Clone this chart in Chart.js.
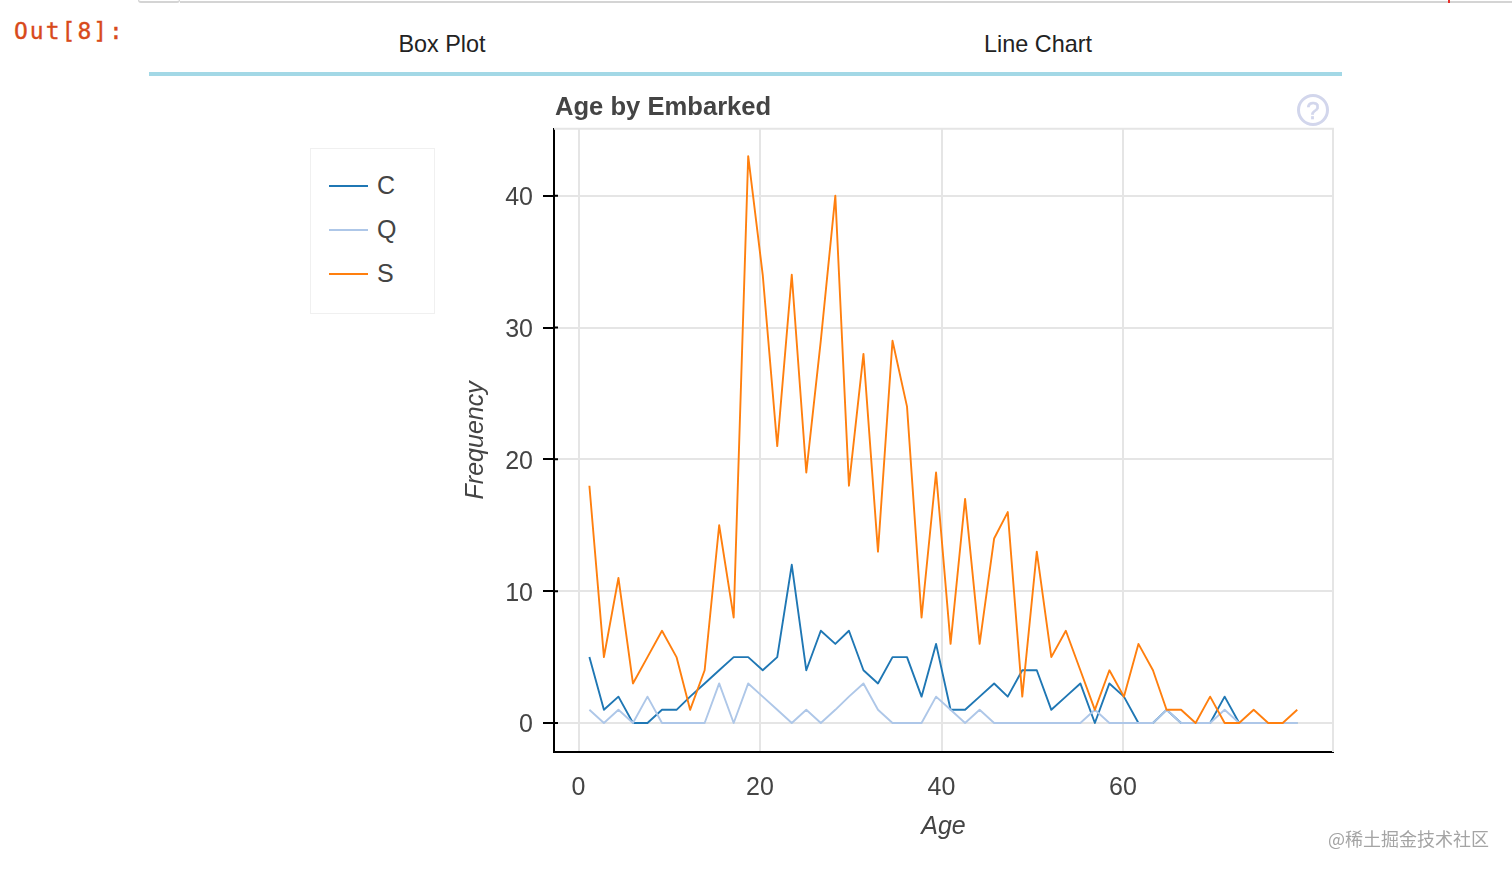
<!DOCTYPE html>
<html>
<head>
<meta charset="utf-8">
<title>Age by Embarked</title>
<script src="https://cdn.jsdelivr.net/npm/chart.js@4"></script>
<style>
  html, body { margin: 0; padding: 0; background: #fff; }
  body { width: 1512px; height: 873px; position: relative; overflow: hidden; font-family: "Liberation Sans", sans-serif; }
  .abs { position: absolute; white-space: nowrap; }
  #topline { left: 180px; right: 0; top: 1px; height: 2px; background: #d4d4d4; }
  #topnotch { left: 138px; top: -4px; width: 40px; height: 5px; border: 1px solid #d4d4d4; border-width: 0 1px 2px 1px; border-radius: 0 0 3px 3px; }
  #redmark { left: 1448px; top: 0; width: 2px; height: 3px; background: #e8302a; }
  #prompt { left: 14px; top: 18px; font: 23px "DejaVu Sans Mono", monospace; color: #d84a1b; letter-spacing: 2px; -webkit-text-stroke: 0.35px #d84a1b; }
  .tab { top: 31px; font-size: 23.4px; line-height: 27px; color: #222; transform: translateX(-50%); }
  #rule { left: 149px; top: 72px; width: 1193px; height: 4px; background: #a3d8e6; }
  #chartBox { left: 440px; top: 80px; width: 920px; height: 780px; }
  #legendBox { left: 310px; top: 148px; width: 123px; height: 164px; border: 1px solid #f0f0f0; }
  .legendRow { position: absolute; left: 18px; width: 100px; height: 30px; }
  .legendRow i { position: absolute; left: 0; top: 14px; width: 39px; height: 2px; }
  .legendRow span { position: absolute; left: 48px; top: -1px; font-size: 25px; line-height: 30px; color: #444; }
  #help { left: 1296px; top: 93px; }
  #watermark { left: 1328px; top: 825px; font: 18px "Noto Sans CJK SC", sans-serif; color: #a4a4a4; }
</style>
</head>
<body>
<div class="abs" id="topnotch"></div>
<div class="abs" id="topline"></div>
<div class="abs" id="redmark"></div>
<div class="abs" id="prompt">Out[8]:</div>
<div class="abs tab" style="left:442px">Box Plot</div>
<div class="abs tab" style="left:1038px">Line Chart</div>
<div class="abs" id="rule"></div>
<div class="abs" id="legendBox"></div>
<div class="abs" id="chartBox"><canvas id="lineChart"></canvas></div>
<svg class="abs" id="help" width="34" height="34" viewBox="0 0 34 34">
  <circle cx="17" cy="17" r="14.5" fill="none" stroke="#d2d6ec" stroke-width="3"/>
  <text x="17" y="25.5" text-anchor="middle" font-size="24" font-family="Liberation Sans" fill="#d2d6ec" stroke="#d2d6ec" stroke-width="0.6">?</text>
</svg>
<div class="abs" id="watermark">@稀土掘金技术社区</div>

<script>
// bin centres of the Age histogram
const ages = [1.2, 2.8, 4.4, 6.0, 7.6, 9.2, 10.8, 12.3, 13.9, 15.5,
              17.1, 18.7, 20.3, 21.9, 23.5, 25.1, 26.7, 28.3, 29.8, 31.4,
              33.0, 34.6, 36.2, 37.8, 39.4, 41.0, 42.6, 44.2, 45.8, 47.3,
              48.9, 50.5, 52.1, 53.7, 55.3, 56.9, 58.5, 60.1, 61.7, 63.3,
              64.8, 66.4, 68.0, 69.6, 71.2, 72.8, 74.4, 76.0, 77.6, 79.2];

const seriesC = [5, 1, 2, 0, 0, 1, 1, 2, 3, 4,
                 5, 5, 4, 5, 12, 4, 7, 6, 7, 4,
                 3, 5, 5, 2, 6, 1, 1, 2, 3, 2,
                 4, 4, 1, 2, 3, 0, 3, 2, 0, 0,
                 1, 0, 0, 0, 2, 0, 0, 0, 0, 0];
const seriesQ = [1, 0, 1, 0, 2, 0, 0, 0, 0, 3,
                 0, 3, 2, 1, 0, 1, 0, 1, 2, 3,
                 1, 0, 0, 0, 2, 1, 0, 1, 0, 0,
                 0, 0, 0, 0, 0, 1, 0, 0, 0, 0,
                 1, 0, 0, 0, 1, 0, 0, 0, 0, 0];
const seriesS = [18, 5, 11, 3, 5, 7, 5, 1, 4, 15,
                 8, 43, 34, 21, 34, 19, 29, 40, 18, 28,
                 13, 29, 24, 8, 19, 6, 17, 6, 14, 16,
                 2, 13, 5, 7, 4, 1, 4, 2, 6, 4,
                 1, 1, 0, 2, 0, 0, 1, 0, 0, 1];

const xTicks = [0, 20, 40, 60];
const yTicks = [0, 10, 20, 30, 40];
const seriesNames = ["C", "Q", "S"];
const seriesColors = ["#1f77b4", "#aec7e8", "#ff7f0e"];
const seriesValues = [seriesC, seriesQ, seriesS];

const gridColor = "#e5e5e5";
const textColor = "#444444";
const fontFamily = "'Liberation Sans', sans-serif";

// bits chart.js has no option for: plot frame, title over the plot, tick stubs inside the axis
const framePlugin = {
  id: "frame",
  afterLayout(chart) {
    chart.titleBlock.left = chart.chartArea.left + 1;
    // canvas "middle" baseline sits a bit high for digits
    chart.scales.y.getLabelItems(chart.chartArea).forEach(item => { item.options.translation[1] += 2.5; });
    chart.scales.x.getLabelItems(chart.chartArea).forEach(item => { item.options.translation[1] += 1; });
  },
  beforeDatasetsDraw(chart) {
    const a = chart.chartArea, c = chart.ctx;
    c.save();
    c.strokeStyle = gridColor;
    c.lineWidth = 2;
    c.beginPath();
    c.moveTo(a.left, a.top);
    c.lineTo(a.right, a.top);
    c.lineTo(a.right, a.bottom);
    c.stroke();
    c.strokeStyle = "#000";
    c.beginPath();
    yTicks.forEach(v => {
      const y = chart.scales.y.getPixelForValue(v);
      c.moveTo(a.left, y);
      c.lineTo(a.left + 4, y);
    });
    c.stroke();
    c.restore();
  }
};

const chart = new Chart(document.getElementById("lineChart"), {
  type: "line",
  data: {
    datasets: seriesNames.map((name, i) => ({
      label: name,
      data: ages.map((age, j) => ({ x: age, y: seriesValues[i][j] })),
      borderColor: seriesColors[i],
      borderWidth: 1.9,
      borderJoinStyle: "round",
      order: seriesNames.length - i,
      pointRadius: 0,
      tension: 0,
      fill: false
    }))
  },
  options: {
    responsive: true,
    maintainAspectRatio: false,
    animation: false,
    layout: { padding: { left: 0, right: 27, top: 0, bottom: 0 } },
    plugins: {
      legend: { display: false },
      tooltip: { enabled: false },
      title: {
        display: true,
        text: "Age by Embarked",
        align: "start",
        color: textColor,
        font: { family: fontFamily, size: 25.6, weight: "bold" },
        padding: { top: 13, bottom: 5 }
      }
    },
    scales: {
      x: {
        type: "linear",
        min: -2.7,
        max: 83.14,
        afterBuildTicks(scale) { scale.ticks = xTicks.map(v => ({ value: v })); },
        afterFit(scale) { scale.height = 108; },
        grid: { color: gridColor, lineWidth: 2, drawTicks: false },
        border: { color: "#000", width: 2 },
        ticks: { color: textColor, padding: 20, maxRotation: 0, font: { family: fontFamily, size: 25 } },
        title: { display: true, text: "Age", color: textColor, padding: { top: 8, bottom: 18 },
                 font: { family: fontFamily, size: 25, style: "italic" } }
      },
      y: {
        type: "linear",
        min: -2.2,
        max: 45.08,
        afterBuildTicks(scale) { scale.ticks = yTicks.map(v => ({ value: v })); },
        afterFit(scale) { scale.width = 114; },
        grid: { color: gridColor, lineWidth: 2, tickColor: "#000", tickLength: 11, tickWidth: 2 },
        border: { color: "#000", width: 2 },
        ticks: { color: textColor, padding: 10, font: { family: fontFamily, size: 25 } },
        title: { display: true, text: "Frequency", color: textColor, padding: { top: 21, bottom: 12 },
                 font: { family: fontFamily, size: 25, style: "italic" } }
      }
    }
  },
  plugins: [framePlugin]
});

// legend box is built from the chart's own datasets
const legendBox = document.getElementById("legendBox");
chart.data.datasets.forEach((ds, i) => {
  const row = document.createElement("div");
  row.className = "legendRow";
  row.style.top = (22 + i * 44) + "px";
  row.innerHTML = '<i style="background:' + ds.borderColor + '"></i><span>' + ds.label + "</span>";
  legendBox.appendChild(row);
});
</script>
</body>
</html>
